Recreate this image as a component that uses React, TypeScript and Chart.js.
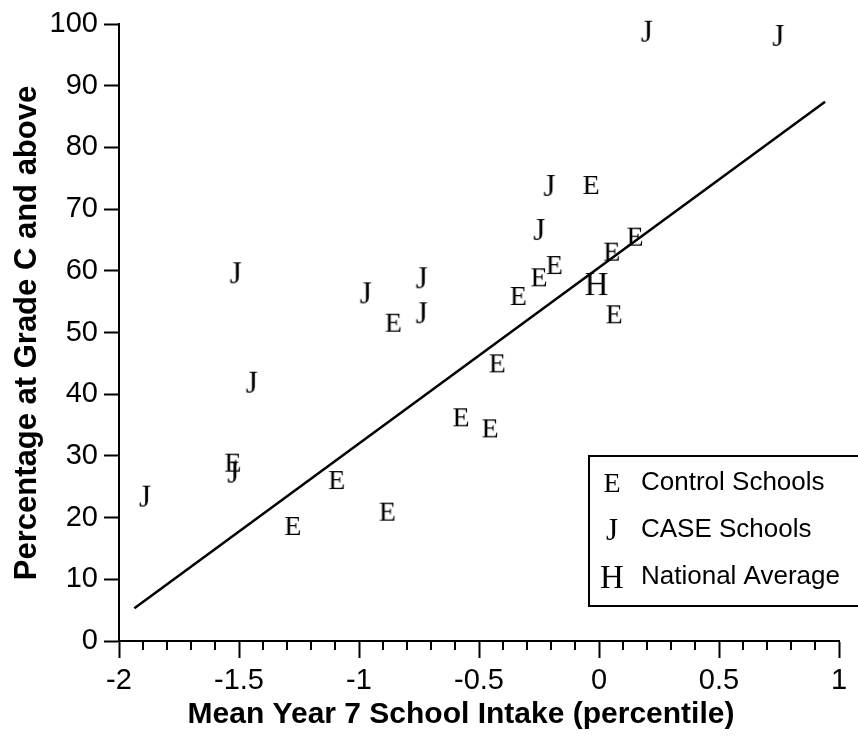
import React, { useEffect, useRef } from "react";
import { Chart, registerables } from "chart.js";

Chart.register(...registerables);

// ---- data ----
const caseX = [0.199, 0.747, -0.207, -0.249, -1.514, -0.739, -0.972, -0.739, -1.447, -1.524, -1.892];
const caseY = [98.75, 98.05, 73.74, 66.61, 59.6, 58.79, 56.35, 53.11, 41.86, 27.28, 23.39];

const controlX = [-0.033, -1.526, 0.15, 0.053, -0.186, -0.25, -0.336, -0.857, 0.063, -0.424, -0.575, -0.454, -1.093, -0.882, -1.276];
const controlY = [73.91, 28.9, 65.53, 63.1, 60.94, 58.95, 55.92, 51.59, 52.95, 45.0, 36.26, 34.47, 26.09, 20.96, 18.64];

const nationalX = [-0.01];
const nationalY = [57.86];

const fitX = [-1.936, 0.942];
const fitY = [5.3, 87.41];

const xTickValues = [-2, -1.5, -1, -0.5, 0, 0.5, 1];
const xMinorValues = [-1.9, -1.8, -1.7, -1.6, -1.4, -1.3, -1.2, -1.1, -0.9, -0.8, -0.7, -0.6, -0.4, -0.3, -0.2, -0.1, 0.1, 0.2, 0.3, 0.4, 0.6, 0.7, 0.8, 0.9];
const yTickValues = [0, 10, 20, 30, 40, 50, 60, 70, 80, 90, 100];

const seriesLabels = ["Control Schools", "CASE Schools", "National Average"];
const xTitle = "Mean Year 7 School Intake (percentile)";
const yTitle = "Percentage at Grade C and above";

const SANS = '"Liberation Sans", Arial, sans-serif';
const SERIF = '"Liberation Serif", "Times New Roman", serif';

function letterCanvas(ch: string, size: number): HTMLCanvasElement {
  const c = document.createElement("canvas");
  c.width = 48;
  c.height = 48;
  const ctx = c.getContext("2d")!;
  ctx.font = `${size}px ${SERIF}`;
  ctx.fillStyle = "#000";
  ctx.textAlign = "center";
  ctx.textBaseline = "alphabetic";
  ctx.fillText(ch, 24, 24 + (size * 0.662) / 2);
  return c;
}

function zip(xs: number[], ys: number[]) {
  return xs.map((x, i) => ({ x, y: ys[i] }));
}

export default function App() {
  const ref = useRef<HTMLCanvasElement | null>(null);

  useEffect(() => {
    document.body.style.margin = "0";
    const canvas = ref.current!;
    const eMark = letterCanvas("E", 28);
    const jMark = letterCanvas("J", 31);
    const hMark = letterCanvas("H", 33);

    const extras = {
      id: "extras",
      afterDraw(chart: any) {
        const ctx = chart.ctx as CanvasRenderingContext2D;
        const xs = chart.scales.x;
        const area = chart.chartArea;
        ctx.save();
        // minor ticks on x axis
        ctx.strokeStyle = "#000";
        ctx.lineWidth = 2;
        ctx.beginPath();
        xMinorValues.forEach((v) => {
          const px = Math.round(xs.getPixelForValue(v));
          ctx.moveTo(px, area.bottom);
          ctx.lineTo(px, area.bottom + 9);
        });
        ctx.stroke();

        // axis titles
        ctx.fillStyle = "#000";
        ctx.font = `bold 30px ${SANS}`;
        ctx.textAlign = "center";
        ctx.textBaseline = "middle";
        ctx.fillText(xTitle, 461, 715);
        ctx.save();
        ctx.translate(27, 333);
        ctx.rotate(-Math.PI / 2);
        ctx.font = `bold 31px ${SANS}`;
        ctx.fillText(yTitle, 0, 0);
        ctx.restore();

        // legend box
        ctx.lineWidth = 2;
        ctx.strokeRect(589, 456, 320, 150);
        const marks = [eMark, jMark, hMark];
        const ys = [483, 530, 577];
        ctx.font = `26px ${SANS}`;
        ctx.textAlign = "left";
        marks.forEach((m, i) => {
          ctx.drawImage(m, 612 - m.width / 2, ys[i] - m.height / 2);
          ctx.fillText(seriesLabels[i], 641, ys[i]);
        });
        ctx.restore();
      },
    };

    const chart = new Chart(canvas, {
      type: "scatter",
      data: {
        datasets: [
          {
            label: seriesLabels[0],
            data: zip(controlX, controlY),
            pointStyle: eMark as any,
            clip: false as any,
          },
          {
            label: seriesLabels[1],
            data: zip(caseX, caseY),
            pointStyle: jMark as any,
            clip: false as any,
          },
          {
            label: seriesLabels[2],
            data: zip(nationalX, nationalY),
            pointStyle: hMark as any,
            clip: false as any,
          },
          {
            type: "line" as any,
            label: "fit",
            data: zip(fitX, fitY),
            borderColor: "#000",
            borderWidth: 2.5,
            pointRadius: 0,
            showLine: true,
            fill: false,
          } as any,
        ],
      },
      options: {
        responsive: false,
        animation: false,
        events: [],
        layout: { padding: { top: 24, right: 19, left: 0, bottom: 0 } },
        plugins: {
          legend: { display: false },
          tooltip: { enabled: false },
          title: { display: false },
        },
        scales: {
          x: {
            type: "linear",
            min: -2,
            max: 1,
            afterBuildTicks: (s: any) => {
              s.ticks = xTickValues.map((v) => ({ value: v }));
            },
            afterFit: (s: any) => {
              s.height = 95;
            },
            grid: {
              drawOnChartArea: false,
              drawTicks: true,
              tickLength: 17,
              tickWidth: 2,
              tickColor: "#000",
            },
            border: { display: true, color: "#000", width: 2 },
            ticks: {
              color: "#000",
              font: { family: SANS, size: 29 },
              padding: 6,
              maxRotation: 0,
              autoSkip: false,
              callback: (v: any) => String(Number(v)),
            },
          },
          y: {
            type: "linear",
            min: 0,
            max: 100,
            afterBuildTicks: (s: any) => {
              s.ticks = yTickValues.map((v) => ({ value: v }));
            },
            afterFit: (s: any) => {
              s.width = 119;
            },
            grid: {
              drawOnChartArea: false,
              drawTicks: true,
              tickLength: 15,
              tickWidth: 2,
              tickColor: "#000",
            },
            border: { display: true, color: "#000", width: 2 },
            ticks: {
              color: "#000",
              font: { family: SANS, size: 29 },
              padding: 6,
              autoSkip: false,
              callback: (v: any) => String(Number(v)),
            },
          },
        },
      },
      plugins: [extras],
    } as any);

    return () => chart.destroy();
  }, []);

  return (
    <canvas
      ref={ref}
      width={858}
      height={736}
      style={{ display: "block", width: 858, height: 736 }}
    />
  );
}
